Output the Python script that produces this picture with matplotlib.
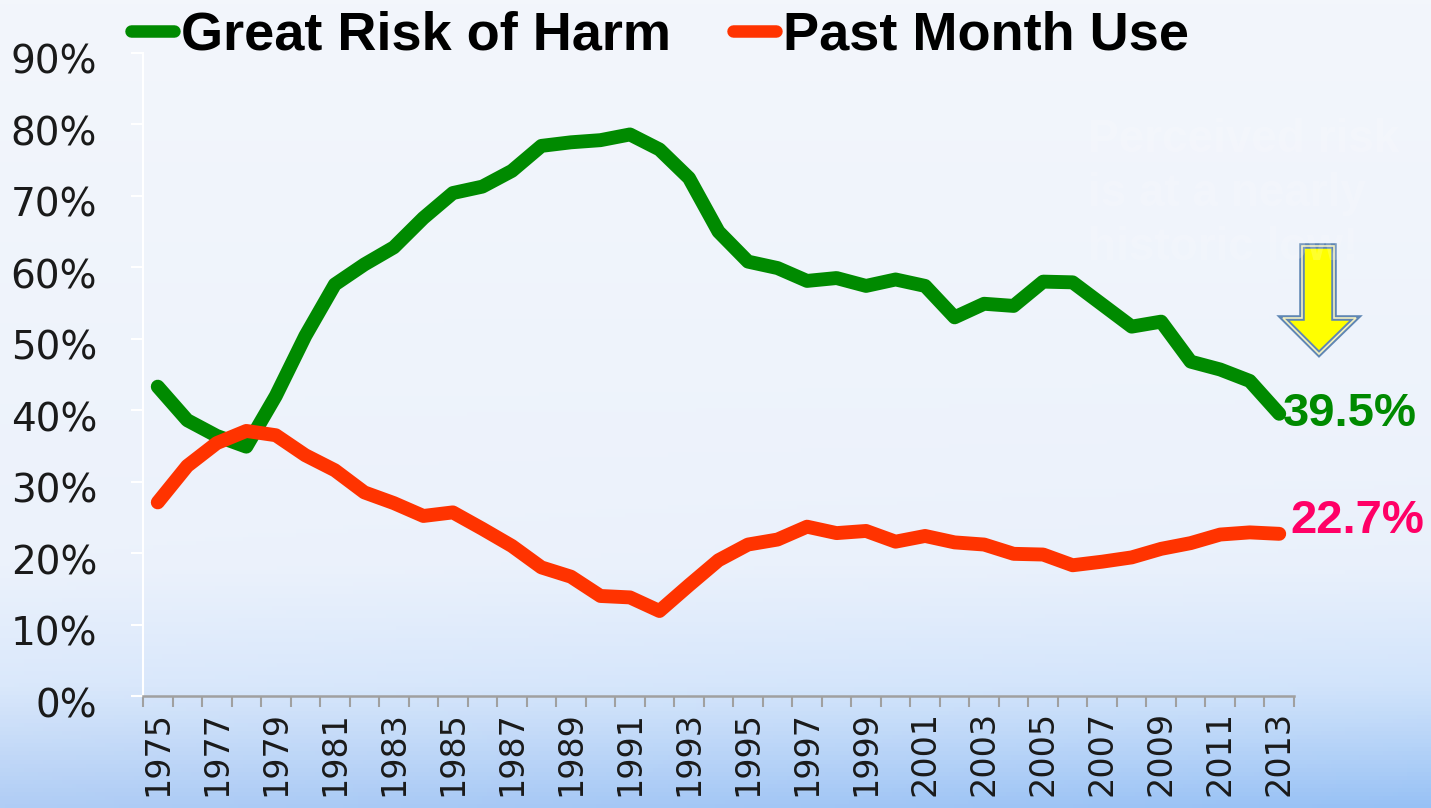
import numpy as np
import matplotlib
matplotlib.use("Agg")
import matplotlib.pyplot as plt
from matplotlib.patches import Polygon
from matplotlib.transforms import ScaledTranslation

years = list(range(1975, 2014))
great_risk = [43.3, 38.6, 36.4, 34.9, 42.0, 50.4, 57.6, 60.4, 62.8, 66.9,
              70.4, 71.3, 73.5, 77.0, 77.5, 77.8, 78.6, 76.5, 72.5, 65.0,
              60.8, 59.9, 58.1, 58.5, 57.4, 58.3, 57.4, 53.0, 54.9, 54.6,
              58.0, 57.9, 54.8, 51.7, 52.4, 46.8, 45.7, 44.1, 39.5]
past_month = [27.1, 32.2, 35.4, 37.1, 36.5, 33.7, 31.6, 28.5, 27.0, 25.2,
              25.7, 23.4, 21.0, 18.0, 16.7, 14.0, 13.8, 11.9, 15.5, 19.0,
              21.2, 21.9, 23.7, 22.8, 23.1, 21.6, 22.4, 21.5, 21.2, 19.9,
              19.8, 18.3, 18.8, 19.4, 20.6, 21.4, 22.6, 22.9, 22.7]
y_ticks = [0, 10, 20, 30, 40, 50, 60, 70, 80, 90]

W, H = 1431, 808
fig = plt.figure(figsize=(W / 100, H / 100), dpi=100)

# background gradient
bg = fig.add_axes([0, 0, 1, 1])
ty = np.linspace(0, 1, 200)[:, None]
tx = np.linspace(0, 1, 300)[None, :]
stops = [0.0, 0.7, 0.85, 1.0]
cols = np.array([[243, 246, 251], [236, 242, 252], [218, 232, 251], [176, 205, 245]])
img = np.zeros((200, 300, 3))
for c in range(3):
    img[:, :, c] = np.interp(ty, stops, cols[:, c]) + 0 * tx
img[:, :, 0] -= 25 * tx * ty ** 6
img[:, :, 1] -= 12 * tx * ty ** 6
bg.imshow(np.clip(img, 0, 255) / 255, aspect="auto", extent=[0, 1, 0, 1])
bg.axis("off")

# faint background note (barely visible in the original)
fig.text(1088 / W, 1 - 118 / H, "Perceived risk\nis at a nearly\nhistoric low!",
         fontsize=33, fontweight="bold", color="white", alpha=0.18,
         va="top", ha="left", linespacing=1.3, family="Liberation Sans")

ax = fig.add_axes([143 / W, 112 / H, (1294 - 143) / W, (696 - 53) / H])
ax.set_facecolor("none")
x = np.arange(len(years))
l1, = ax.plot(x, great_risk, color="#008a00", lw=10, solid_capstyle="round",
              solid_joinstyle="round", label="Great Risk of Harm")
l2, = ax.plot(x, past_month, color="#ff3300", lw=10, solid_capstyle="round",
              solid_joinstyle="round", label="Past Month Use")
ax.set_xlim(-0.5, len(years) - 0.5)
ax.set_ylim(0, 90)

ax.set_yticks(y_ticks)
ax.set_yticklabels([f"{v}%" for v in y_ticks])
ax.tick_params(axis="y", length=9, width=1.5, color="white", pad=24,
               labelsize=28, labelcolor="#1a1a1a")
shift = ScaledTranslation(0, -6 / 100, fig.dpi_scale_trans)
for t in ax.get_yticklabels():
    t.set_family("DejaVu Sans")
    t.set_transform(t.get_transform() + shift)

ax.set_xticks(x[::2])
ax.set_xticklabels([str(y) for y in years[::2]], rotation=90)
ax.set_xticks(np.arange(-0.5, len(years)), minor=True)
ax.tick_params(axis="x", which="major", length=0, pad=11, labelsize=24,
               labelcolor="#1a1a1a")
ax.tick_params(axis="x", which="minor", length=8, width=1.5, color="#a0a0a0")

for s in ["top", "right"]:
    ax.spines[s].set_visible(False)
ax.spines["left"].set_color("white")
ax.spines["left"].set_linewidth(1.5)
ax.spines["bottom"].set_color("#a0a0a0")
ax.spines["bottom"].set_linewidth(1.8)

ax.annotate("39.5%", (x[-1], great_risk[-1]), xytext=(3, 0),
            textcoords="offset points", ha="left", va="center",
            fontsize=34, fontweight="bold", color="#008a00",
            family="Liberation Sans", annotation_clip=False)
ax.annotate("22.7%", (x[-1], past_month[-1]), xytext=(8, 9),
            textcoords="offset points", ha="left", va="center",
            fontsize=34, fontweight="bold", color="#ff0066",
            family="Liberation Sans", annotation_clip=False)

leg = fig.legend(handles=[l1, l2], loc="center left",
                 bbox_to_anchor=(131 / W, 1 - 36 / H), ncol=2, frameon=False,
                 borderpad=0, borderaxespad=0,
                 handlelength=0.8, handletextpad=0.12, columnspacing=1.15,
                 prop={"family": "Liberation Sans", "weight": "bold", "size": 39})
for h in leg.legend_handles:
    h.set_linewidth(9)
    h.set_solid_capstyle("round")

# yellow down arrow
pts = [(1302, 246), (1334, 246), (1334, 318), (1356, 318), (1319, 354),
       (1283, 318), (1302, 318)]
pts = [(px / W, 1 - py / H) for px, py in pts]
fig.patches.append(Polygon(pts, closed=True, facecolor="#ffff00",
                           edgecolor="#5f86b4", lw=4, transform=fig.transFigure,
                           joinstyle="miter"))
fig.patches.append(Polygon(pts, closed=True, fill=False, edgecolor="#f4f0c0",
                           lw=1.2, transform=fig.transFigure, joinstyle="miter"))

fig.savefig("out.png", dpi=100)
